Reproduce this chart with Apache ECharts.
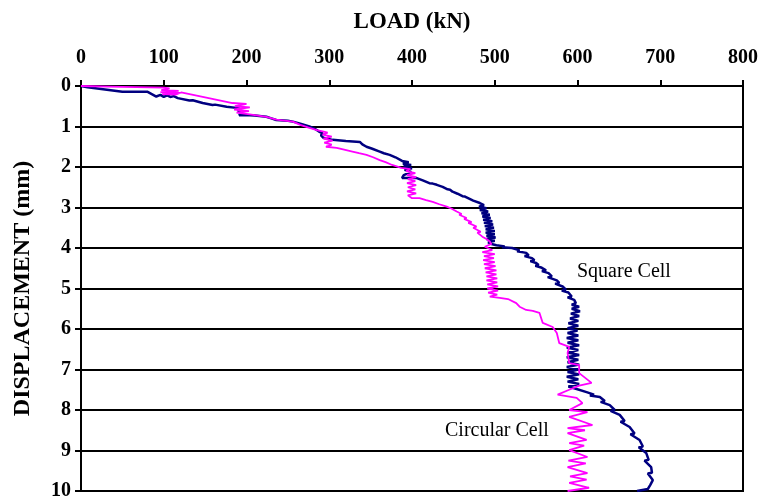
<!DOCTYPE html>
<html>
<head>
<meta charset="utf-8">
<script src="https://cdn.jsdelivr.net/npm/echarts@6/dist/echarts.min.js"></script>
<style>
  html, body { margin: 0; padding: 0; background: #fff; }
  #chart { width: 761px; height: 499px; }
</style>
</head>
<body>
<div id="chart"></div>
<script>
// ejes
const loadTicks = [0, 100, 200, 300, 400, 500, 600, 700, 800];
const dispTicks = [0, 1, 2, 3, 4, 5, 6, 7, 8, 9, 10];

// Square Cell: [carga kN, desplazamiento mm]
const squareCell = [
  [0, 0], [8, 0.03], [50, 0.14], [80, 0.14], [91, 0.26], [96, 0.22], [100, 0.27], [104, 0.23],
  [108, 0.27], [112, 0.25], [117, 0.30], [131, 0.36], [135, 0.35], [147, 0.42], [159, 0.47],
  [162, 0.46], [176, 0.51], [188, 0.54], [192, 0.56], [190, 0.62], [194, 0.66], [191, 0.72],
  [204, 0.72], [210, 0.73], [224, 0.76], [230, 0.80], [236, 0.84], [250, 0.86], [256, 0.88],
  [265, 0.93], [276, 1.0], [283, 1.06], [288, 1.13], [292, 1.16], [290, 1.22], [293, 1.28],
  [304, 1.33], [320, 1.36], [337, 1.38], [340, 1.44], [345, 1.50], [352, 1.55], [361, 1.62],
  [366, 1.66], [373, 1.70], [380, 1.76], [388, 1.85], [396, 1.88], [389, 1.92], [399, 1.95],
  [390, 1.99], [400, 2.03], [391, 2.07], [399, 2.12], [390, 2.2], [388, 2.27], [405, 2.27],
  [413, 2.33], [421, 2.40], [425, 2.41], [430, 2.44], [437, 2.49], [443, 2.55], [446, 2.56],
  [449, 2.61], [455, 2.66], [461, 2.72], [464, 2.73], [466, 2.77], [474, 2.83], [482, 2.89],
  [487, 2.94], [481, 2.98], [490, 3.02], [482, 3.06], [492, 3.10], [484, 3.14], [494, 3.18],
  [485, 3.22], [495, 3.26], [486, 3.30], [497, 3.34], [487, 3.38], [498, 3.42], [488, 3.46],
  [499, 3.50], [489, 3.54], [500, 3.58], [489, 3.62], [500, 3.66], [490, 3.70], [501, 3.74],
  [490, 3.78], [500, 3.82], [492, 3.86], [496, 3.90], [502, 3.93], [512, 3.96], [509, 3.98],
  [521, 4.0], [530, 4.06], [527, 4.08], [538, 4.12], [541, 4.18], [536, 4.2], [545, 4.25],
  [548, 4.30], [543, 4.32], [550, 4.37], [553, 4.42], [549, 4.44], [556, 4.48], [562, 4.55],
  [557, 4.57], [565, 4.62], [569, 4.70], [564, 4.72], [575, 4.80], [578, 4.86], [573, 4.88],
  [582, 4.95], [586, 5.03], [581, 5.05], [589, 5.10], [593, 5.20], [588, 5.22], [596, 5.28],
  [598, 5.36], [593, 5.40], [602, 5.45], [593, 5.50], [603, 5.56], [592, 5.62], [602, 5.68],
  [591, 5.74], [601, 5.80], [589, 5.86], [601, 5.92], [588, 5.98], [600, 6.04], [588, 6.10],
  [601, 6.16], [587, 6.22], [601, 6.28], [588, 6.34], [602, 6.40], [587, 6.46], [601, 6.52],
  [588, 6.58], [602, 6.64], [587, 6.70], [601, 6.76], [588, 6.82], [602, 6.88], [587, 6.94],
  [601, 7.0], [588, 7.06], [602, 7.12], [587, 7.18], [601, 7.24], [588, 7.30], [602, 7.36],
  [589, 7.42], [597, 7.47], [611, 7.56], [620, 7.62], [615, 7.64], [627, 7.68], [633, 7.78],
  [628, 7.80], [639, 7.88], [645, 8.0], [640, 8.02], [651, 8.12], [657, 8.27], [652, 8.29],
  [663, 8.42], [669, 8.58], [664, 8.60], [675, 8.74], [679, 8.90], [674, 8.92], [683, 9.06],
  [686, 9.23], [681, 9.25], [689, 9.41], [690, 9.55], [685, 9.57], [691, 9.73], [688, 9.85],
  [685, 9.95], [672, 10]
];

// Circular Cell: [carga kN, desplazamiento mm]
const circularCell = [
  [0, 0], [50, 0.02], [100, 0.04], [107, 0.06], [97, 0.1], [118, 0.12], [96, 0.15], [120, 0.17],
  [98, 0.2], [115, 0.21], [121, 0.16], [150, 0.28], [183, 0.42], [200, 0.44], [186, 0.5],
  [204, 0.53], [185, 0.58], [203, 0.62], [188, 0.66], [204, 0.70], [204, 0.72], [224, 0.76],
  [236, 0.83], [256, 0.88], [265, 0.96], [275, 1.03], [285, 1.09], [292, 1.12], [298, 1.15],
  [292, 1.2], [303, 1.25], [293, 1.3], [304, 1.35], [294, 1.4], [303, 1.45], [296, 1.5],
  [309, 1.53], [318, 1.57], [328, 1.62], [336, 1.66], [345, 1.70], [353, 1.76], [361, 1.83],
  [368, 1.88], [376, 1.95], [387, 2.02], [398, 2.05], [393, 2.1], [404, 2.15], [394, 2.2],
  [405, 2.25], [395, 2.3], [404, 2.35], [394, 2.4], [405, 2.45], [395, 2.5], [404, 2.55],
  [394, 2.6], [405, 2.65], [395, 2.7], [400, 2.77], [409, 2.77], [417, 2.82], [425, 2.86],
  [433, 2.92], [442, 2.98], [448, 3.03], [454, 3.10], [460, 3.16], [457, 3.18], [466, 3.26],
  [463, 3.28], [472, 3.36], [468, 3.38], [478, 3.47], [474, 3.5], [483, 3.6], [479, 3.62],
  [485, 3.72], [490, 3.78], [494, 3.84], [496, 3.9], [488, 3.97], [486, 4.0], [497, 4.05],
  [485, 4.1], [500, 4.15], [487, 4.2], [499, 4.25], [486, 4.3], [500, 4.35], [487, 4.4],
  [501, 4.45], [488, 4.5], [502, 4.55], [489, 4.6], [502, 4.65], [490, 4.7], [503, 4.75],
  [490, 4.8], [503, 4.85], [491, 4.9], [504, 4.95], [491, 5.0], [504, 5.05], [492, 5.1],
  [503, 5.15], [494, 5.2], [506, 5.23], [516, 5.26], [514, 5.3], [526, 5.36], [530, 5.45],
  [538, 5.53], [546, 5.55], [554, 5.60], [558, 5.85], [570, 5.95], [575, 6.10], [578, 6.35],
  [590, 6.44], [588, 6.59], [590, 6.84], [602, 6.89], [602, 7.09], [617, 7.33], [602, 7.40],
  [590, 7.50], [576, 7.62], [599, 7.70], [606, 7.83], [590, 8.0], [612, 8.05], [590, 8.17],
  [618, 8.37], [588, 8.45], [609, 8.50], [588, 8.57], [611, 8.74], [590, 8.82], [608, 8.88],
  [590, 8.99], [612, 9.16], [589, 9.25], [610, 9.32], [588, 9.41], [612, 9.56], [591, 9.64],
  [611, 9.72], [590, 9.80], [614, 9.92], [588, 10]
];

const serif = '"Liberation Serif", "Times New Roman", serif';

let myChart = echarts.init(document.getElementById('chart'));
myChart.setOption({
  animation: false,
  backgroundColor: '#fff',
  grid: {
    left: 81, right: 18, top: 86, bottom: 8,
    outerBoundsMode: 'none',
    containLabel: false,
    show: true, borderColor: '#000', borderWidth: 2
  },
  xAxis: {
    type: 'value',
    position: 'top',
    min: loadTicks[0],
    max: loadTicks[loadTicks.length - 1],
    interval: 100,
    name: 'LOAD (kN)',
    nameLocation: 'middle',
    nameGap: 52,
    nameTextStyle: { fontFamily: serif, fontWeight: 'bold', fontSize: 23, color: '#000' },
    axisLine: { show: true, lineStyle: { color: '#000', width: 2 } },
    axisTick: { show: true, length: 6, lineStyle: { color: '#000', width: 2 } },
    axisLabel: {
      margin: 18, color: '#000', fontFamily: serif, fontWeight: 'bold', fontSize: 20,
      formatter: v => (loadTicks.includes(v) ? String(v) : '')
    },
    splitLine: { show: false }
  },
  yAxis: {
    type: 'value',
    inverse: true,
    min: dispTicks[0],
    max: dispTicks[dispTicks.length - 1],
    interval: 1,
    name: 'DISPLACEMENT (mm)',
    nameLocation: 'middle',
    nameGap: 46,
    nameRotate: 90,
    nameTextStyle: { fontFamily: serif, fontWeight: 'bold', fontSize: 24, color: '#000' },
    axisLine: { show: true, lineStyle: { color: '#000', width: 2 } },
    axisTick: { show: true, length: 6, lineStyle: { color: '#000', width: 2 } },
    axisLabel: {
      margin: 10, color: '#000', fontFamily: serif, fontWeight: 'bold', fontSize: 20,
      formatter: v => (dispTicks.includes(v) ? String(v) : '')
    },
    splitLine: { show: true, lineStyle: { color: '#000', width: 2 } }
  },
  graphic: [
    {
      type: 'text', left: 577, top: 262,
      style: { text: 'Square Cell', font: '20px ' + serif, fill: '#000' }
    },
    {
      type: 'text', left: 445, top: 421,
      style: { text: 'Circular Cell', font: '20px ' + serif, fill: '#000' }
    }
  ],
  series: [
    {
      name: 'Square Cell',
      type: 'line',
      data: squareCell,
      showSymbol: false,
      symbol: 'none',
      lineStyle: { color: '#000080', width: 2.5 },
      z: 2
    },
    {
      name: 'Circular Cell',
      type: 'line',
      data: circularCell,
      showSymbol: false,
      symbol: 'none',
      lineStyle: { color: '#ff00ff', width: 1.8 },
      z: 3
    }
  ]
});
</script>
</body>
</html>
